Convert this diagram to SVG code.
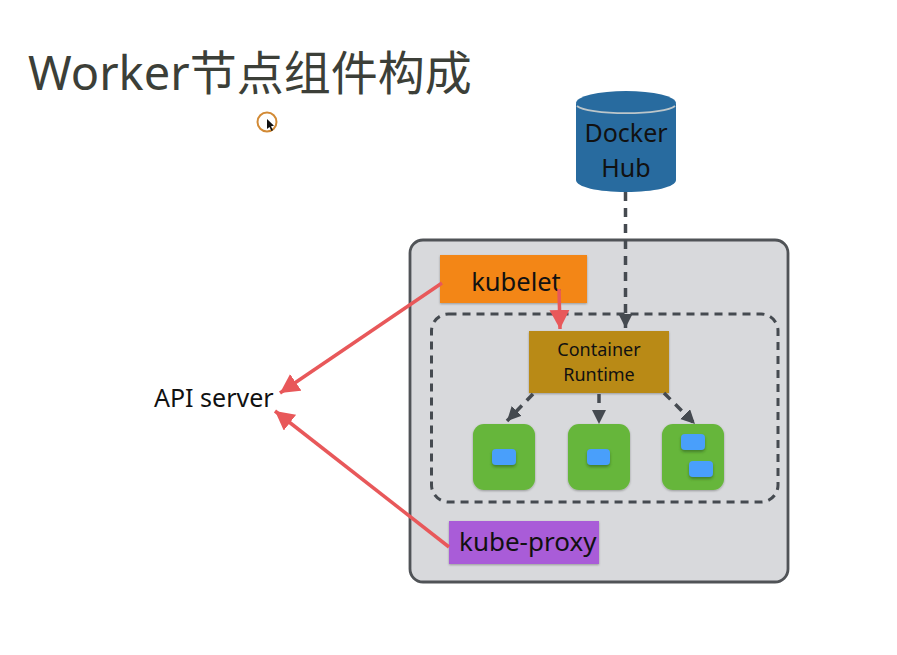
<svg xmlns="http://www.w3.org/2000/svg" width="897" height="655" viewBox="0 0 897 655">
<style>
text{font-family:"Noto Sans","Noto Sans CJK SC",sans-serif;fill:#111}
.m{text-anchor:middle}
.d{fill:none;stroke:#454a50;stroke-width:3.5;stroke-dasharray:9 7}
.r{fill:none;stroke:#e8585a;stroke-width:3.500}
.g{fill:#66b63a;filter:url(#t)}
.b{fill:#489ffb;filter:url(#s)}
</style>
<defs>
<filter id="s" x="-30%" y="-30%" width="160%" height="190%"><feDropShadow dx="0" dy="2" stdDeviation="1.500" flood-color="#2c5c20" flood-opacity=".6"/></filter>
<filter id="t" x="-5%" y="-5%" width="110%" height="115%"><feDropShadow dx="0" dy="1" stdDeviation="1" flood-color="#000" flood-opacity=".3"/></filter>
<marker id="ad" markerUnits="userSpaceOnUse" markerWidth="16" markerHeight="16" refX="14" refY="7" orient="auto"><path d="M0 0L14 7L0 14z" fill="#454a50"/></marker>
<marker id="ar" markerUnits="userSpaceOnUse" markerWidth="22" markerHeight="22" refX="19" refY="10" orient="auto"><path d="M0 0L19 10L0 20z" fill="#e8585a"/></marker>
</defs>
<rect width="897" height="655" fill="#fff"/>
<text id="title" x="28" y="90" font-size="47" style="fill:#3c3f38">Worker节点组件构成</text>
<g id="cursor"><circle cx="267" cy="122" r="9.500" fill="#fff" stroke="#d28a35" stroke-width="2"/><path d="M267 119l0 10 2.500-2 2 4 1.500-.8-2-4 3-.5z" fill="#111"/></g>
<g id="worker"><rect x="410" y="240" width="378" height="342" rx="13" fill="#d8d9dc" stroke="#505357" stroke-width="2.800"/></g>
<g id="docker-hub">
<path d="M576 104V180C576 187 598 192 626 192S676 187 676 180V104z" fill="#286b9f"/>
<ellipse cx="626" cy="103" rx="50" ry="12" fill="#286b9f"/>
<path d="M577 106A50 9 0 0 0 675 106" fill="none" stroke="#bcc6ca" stroke-width="1.800"/>
<text class="m" x="626" y="142" font-size="25">Docker</text>
<text class="m" x="626" y="177" font-size="25">Hub</text>
</g>
<g id="pod-group"><rect x="431.500" y="314" width="346.500" height="188" rx="17" fill="none" stroke="#454a50" stroke-width="3" stroke-dasharray="8 6"/></g>
<g id="kubelet"><rect x="440" y="255" width="147" height="48" fill="#f38619" filter="url(#t)"/><text class="m" x="516" y="291" font-size="25.500">kubelet</text></g>
<g id="container-runtime"><rect x="529" y="331" width="140" height="62" fill="#b98a14" filter="url(#t)"/><text class="m" x="599" y="356" font-size="18">Container</text><text class="m" x="599" y="381" font-size="18">Runtime</text></g>
<g id="pod-1"><rect class="g" x="473" y="424" width="62" height="66" rx="11"/><rect class="b" x="492" y="449" width="24" height="16" rx="4"/></g>
<g id="pod-2"><rect class="g" x="568" y="424" width="62" height="66" rx="11"/><rect class="b" x="587" y="449" width="23" height="16" rx="4"/></g>
<g id="pod-3"><rect class="g" x="662" y="424" width="62" height="66" rx="11"/><rect class="b" x="681" y="434" width="24" height="16" rx="4"/><rect class="b" x="689" y="461" width="24" height="16" rx="4"/></g>
<g id="kube-proxy"><rect x="449" y="521" width="150" height="43" fill="#a95bd8" filter="url(#t)"/><text x="459" y="551" font-size="26">kube-proxy</text></g>
<g id="api-server"><text x="154" y="407" font-size="25">API server</text></g>
<g id="connectors">
<path class="d" d="M625.500 192V328" marker-end="url(#ad)"/>
<path class="d" d="M533 394L507 421" marker-end="url(#ad)"/>
<path class="d" d="M599 394V424" marker-end="url(#ad)"/>
<path class="d" d="M664 393L695 424" marker-end="url(#ad)"/>
<path class="r" d="M559 289L560 329" marker-end="url(#ar)"/>
<path class="r" d="M442 283L280 393" marker-end="url(#ar)"/>
<path class="r" d="M449 547L275 411" marker-end="url(#ar)"/>
</g>
</svg>
